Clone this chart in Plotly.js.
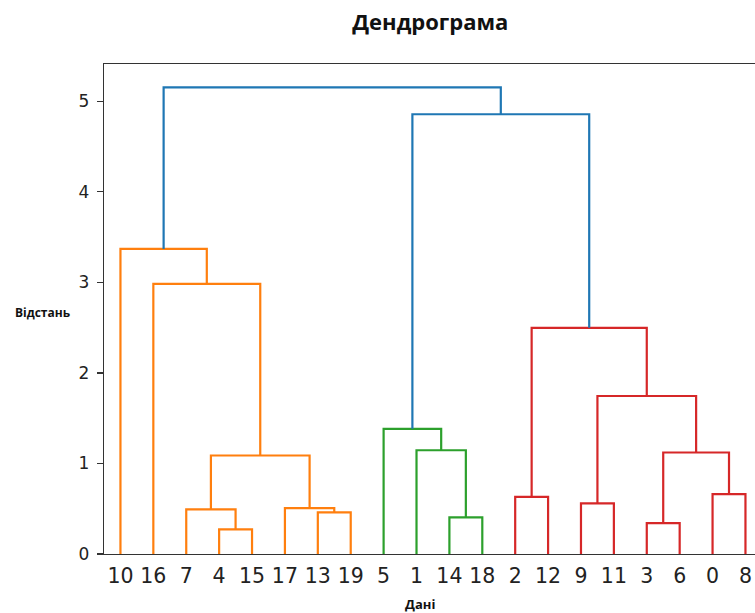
<!DOCTYPE html>
<html>
<head>
<meta charset="utf-8">
<script src="https://cdn.plot.ly/plotly-3.0.1.min.js"></script>
<style>html,body{margin:0;padding:0;background:#fff;}#chart{width:755px;height:613px;}</style>
</head>
<body>
<div id="chart"></div>
<script>
// Leaf labels in display order (left to right)
const leafLabels = ["10","16","7","4","15","17","13","19","5","1","14","18","2","12","9","11","3","6","0","8"];
const nObs = 20;
// Linkage (scipy-style): ids < 20 are observations, id 20+i is merge i
const mergeLeft   = [4, 3, 14, 13, 7, 17, 9, 2, 0, 24, 21, 1, 5, 26, 27, 16, 10, 32, 36];
const mergeRight  = [15, 6, 18, 19, 20, 23, 11, 12, 8, 25, 28, 22, 31, 30, 33, 29, 35, 34, 37];
const mergeHeight = [0.272, 0.342, 0.404, 0.460, 0.493, 0.507, 0.559, 0.632, 0.661, 1.088, 1.121, 1.146, 1.382, 1.745, 2.498, 2.983, 3.369, 4.857, 5.154];
const mergeGroup  = ["C1","C3","C2","C1","C1","C1","C3","C3","C3","C1","C3","C2","C2","C3","C3","C1","C1","C0","C0"];
const groupColors = {C0:"#1f77b4", C1:"#ff7f0e", C2:"#2ca02c", C3:"#d62728"};
const yTicks = [0, 1, 2, 3, 4, 5];

function nodeX(id){
  if (id < nObs) return 5 + 10*leafLabels.indexOf(String(id));
  const m = id - nObs;
  return (nodeX(mergeLeft[m]) + nodeX(mergeRight[m]))/2;
}
function nodeY(id){ return id < nObs ? 0 : mergeHeight[id - nObs]; }

const groups = {};
for (let m = 0; m < mergeLeft.length; m++){
  const g = mergeGroup[m];
  if (!groups[g]) groups[g] = {x:[], y:[]};
  const xl = nodeX(mergeLeft[m]), xr = nodeX(mergeRight[m]);
  const yl = nodeY(mergeLeft[m]), yr = nodeY(mergeRight[m]), h = mergeHeight[m];
  groups[g].x.push(xl, xl, xr, xr, null);
  groups[g].y.push(yl, h, h, yr, null);
}
const traces = Object.keys(groups).map(g => ({
  type:"scatter", mode:"lines", x:groups[g].x, y:groups[g].y,
  line:{color:groupColors[g], width:2.2}, hoverinfo:"skip", showlegend:false, cliponaxis:false
}));

const tickVals = leafLabels.map((_, i) => 5 + 10*i);
const maxH = Math.max(...mergeHeight);

const layout = {
  width:755, height:613,
  margin:{l:104, r:0, t:64, b:59},
  paper_bgcolor:"#fff", plot_bgcolor:"#fff",
  showlegend:false,
  title:{text:"<b>Дендрограма</b>", x:0.57, xref:"container", xanchor:"center", y:1-22/613, yref:"container", yanchor:"middle",
         font:{family:"Open Sans, sans-serif", size:22, color:"#111"}},
  xaxis:{range:[0, 197.9], tickvals:tickVals, ticktext:leafLabels, ticks:"", showgrid:false, zeroline:false,
         showline:true, mirror:true, linecolor:"#333", linewidth:1.3,
         tickfont:{family:"DejaVu Sans, sans-serif", size:20.5, color:"#222"}, ticklabelstandoff:3},
  yaxis:{range:[0, maxH*1.05], tickvals:yTicks, ticks:"outside", ticklen:6, tickcolor:"#333", tickwidth:1.3,
         showgrid:false, zeroline:false, showline:true, linecolor:"#333", linewidth:1.3,
         tickfont:{family:"DejaVu Sans, sans-serif", size:17, color:"#222"}, ticklabelstandoff:4},
  annotations:[
    {text:"<b>Відстань</b>", xref:"paper", yref:"paper", x:(43-104)/651, y:(554-312)/490, xanchor:"center", yanchor:"middle",
     showarrow:false, font:{family:"Open Sans, sans-serif", size:12, color:"#111"}},
    {text:"<b>Дані</b>", xref:"paper", yref:"paper", x:(420-104)/651, y:(554-604)/490, xanchor:"center", yanchor:"middle",
     showarrow:false, font:{family:"Open Sans, sans-serif", size:13, color:"#111"}}
  ]
};
Plotly.newPlot("chart", traces, layout, {displayModeBar:false, staticPlot:true});
</script>
</body>
</html>
